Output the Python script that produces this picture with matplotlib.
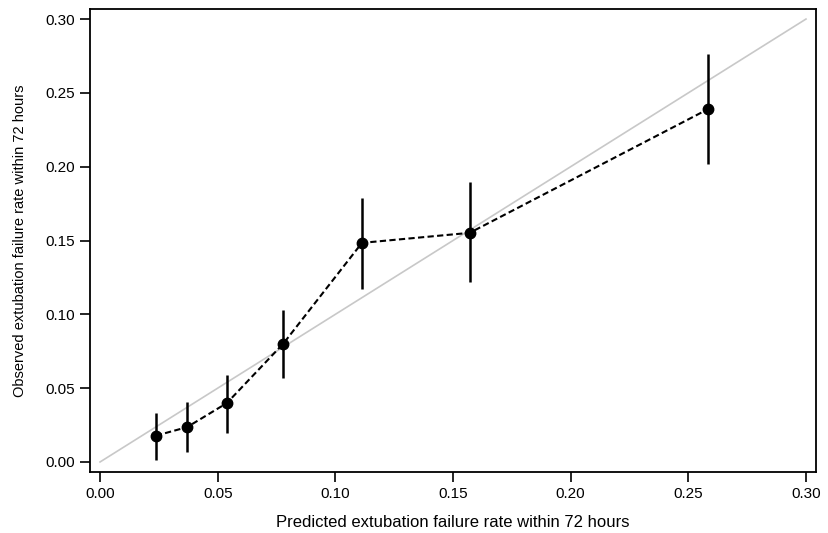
import numpy as np
import matplotlib
matplotlib.use('Agg')
import matplotlib.pyplot as plt

# calibration points
predicted = [0.0237, 0.0370, 0.0539, 0.0779, 0.1113, 0.1571, 0.2584]
observed = [0.0178, 0.0236, 0.0399, 0.0802, 0.1484, 0.1552, 0.2390]
ci_low = [0.0014, 0.0066, 0.0198, 0.0572, 0.1169, 0.1216, 0.2015]
ci_high = [0.0333, 0.0403, 0.0588, 0.1027, 0.1791, 0.1899, 0.2762]
ticks = [0.00, 0.05, 0.10, 0.15, 0.20, 0.25, 0.30]

plt.rcParams['font.family'] = ['Liberation Sans', 'DejaVu Sans']

fig = plt.figure(figsize=(8.29, 5.33), dpi=100)
ax = fig.add_axes([0.1086, 0.1144, 0.8757, 0.8687])

# perfect calibration line
ax.plot([0, 0.30], [0, 0.30], color='#c8c8c8', lw=1.2, zorder=1)

obs = np.array(observed)
yerr = [obs - np.array(ci_low), np.array(ci_high) - obs]
ax.errorbar(predicted, observed, yerr=yerr, fmt='none', ecolor='black',
            elinewidth=1.8, capsize=0, zorder=2)
ax.plot(predicted, observed, color='black', ls=(0, (3, 1.6)), lw=1.5,
        marker='o', ms=7.5, zorder=3)

ax.set_xlim(-0.00425, 0.30425)
ax.set_ylim(-0.0068, 0.3068)
ax.set_xticks(ticks)
ax.set_yticks(ticks)
ax.set_xticklabels(['%.2f' % t for t in ticks])
ax.set_yticklabels(['%.2f' % t for t in ticks])
ax.tick_params(direction='out', length=7, width=1.2, labelsize=11, pad=4)
for s in ax.spines.values():
    s.set_linewidth(1.3)

ax.set_xlabel('Predicted extubation failure rate within 72 hours', fontsize=12, labelpad=10)
ax.set_ylabel('Observed extubation failure rate within 72 hours', fontsize=10.5,
              labelpad=13)

fig.savefig('out.png', dpi=100)
